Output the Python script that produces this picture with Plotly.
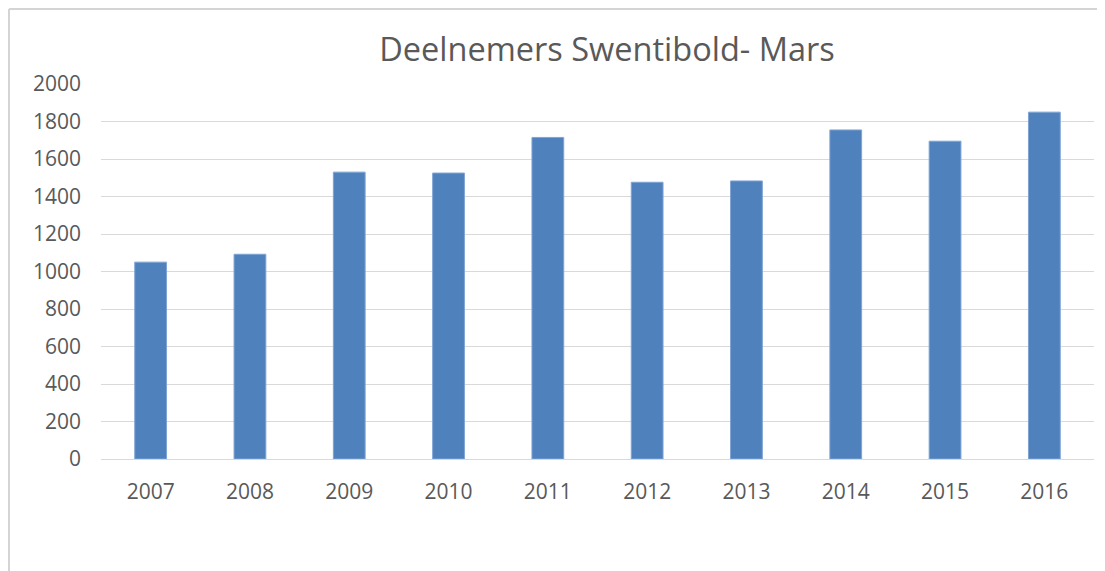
import plotly.graph_objects as go

years = ["2007", "2008", "2009", "2010", "2011", "2012", "2013", "2014", "2015", "2016"]
participants = [1050, 1092, 1530, 1525, 1715, 1476, 1483, 1755, 1695, 1850]
y_ticks = [0, 200, 400, 600, 800, 1000, 1200, 1400, 1600, 1800, 2000]
title_text = "Deelnemers Swentibold- Mars"

OFF = 8  # page body margin
W, H = 1105 - OFF, 571 - OFF
L, T = 101 - OFF, 84 - OFF
R = W - (1094 - OFF)
B = H - (459 - OFF)
pw, ph = W - L - R, H - T - B

def px_x(p):
    return (p - OFF - L) / pw

def px_y(p):
    return (H - B - (p - OFF)) / ph

grey_text = "#595959"
font_family = "Open Sans, Noto Sans, sans-serif"

fig = go.Figure(go.Bar(
    x=years, y=participants,
    marker=dict(color="#4f81bd", line=dict(color="#7fa4d4", width=1)),
))

fig.update_layout(
    width=W, height=H,
    margin=dict(l=L, r=R, t=T, b=B),
    paper_bgcolor="white", plot_bgcolor="white",
    bargap=0.68,
    showlegend=False,
    font=dict(family=font_family, color=grey_text, size=21),
    title=dict(text=title_text, x=px_x(607), xref="paper", xanchor="center",
               y=1 - (50 - OFF) / H, yref="container", yanchor="middle",
               font=dict(size=32.5, color=grey_text, family=font_family)),
    xaxis=dict(showgrid=False, showline=True, linecolor="#d9d9d9", linewidth=1,
               ticks="", ticklabelstandoff=14, tickfont=dict(size=21, color=grey_text)),
    yaxis=dict(range=[0, 2000], tickvals=y_ticks, showgrid=True, gridcolor="#d9d9d9",
               gridwidth=1, zeroline=False, showline=False, ticks="",
               ticklabelstandoff=19, tickfont=dict(size=21, color=grey_text)),
    shapes=[
        dict(type="line", xref="paper", yref="paper",
             x0=px_x(9), x1=px_x(9), y0=px_y(580), y1=px_y(9),
             line=dict(color="#d4d4d4", width=2)),
        dict(type="line", xref="paper", yref="paper",
             x0=px_x(9), x1=px_x(1110), y0=px_y(9), y1=px_y(9),
             line=dict(color="#d4d4d4", width=2)),
    ],
)

fig.write_html("out.html")
